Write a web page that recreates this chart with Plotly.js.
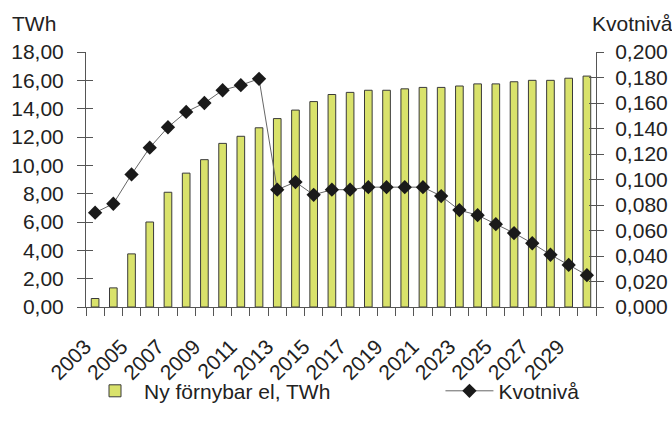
<!DOCTYPE html>
<html>
<head>
<meta charset="utf-8">
<script src="https://cdn.plot.ly/plotly-3.0.1.min.js"></script>
<style>html,body{margin:0;padding:0;background:#fff;}#chart{width:672px;height:423px;}</style>
</head>
<body>
<div id="chart"></div>
<script>
const years = [2003,2004,2005,2006,2007,2008,2009,2010,2011,2012,2013,2014,2015,2016,2017,2018,2019,2020,2021,2022,2023,2024,2025,2026,2027,2028,2029,2030];
const nyFornybarTWh = [0.6,1.35,3.75,6.0,8.1,9.45,10.4,11.55,12.05,12.65,13.3,13.9,14.5,15.0,15.15,15.3,15.3,15.4,15.5,15.5,15.6,15.75,15.75,15.9,16.0,16.0,16.15,16.3];
const kvotniva = [0.074,0.081,0.104,0.125,0.141,0.153,0.160,0.170,0.174,0.179,0.092,0.098,0.088,0.092,0.092,0.094,0.094,0.094,0.094,0.087,0.076,0.072,0.065,0.058,0.050,0.041,0.033,0.025];
const xTickVals = [2003,2005,2007,2009,2011,2013,2015,2017,2019,2021,2023,2025,2027,2029];
const xTickText = ["2003","2005","2007","2009","2011","2013","2015","2017","2019","2021","2023","2025","2027","2029"];
const seriesNames = ["Ny förnybar el, TWh", "Kvotnivå"];
const leftTitle = "TWh";
const rightTitle = "Kvotnivå";
</script>
<script>
const font = {family: "Liberation Sans, Arial, sans-serif", size: 21, color: "#222"};
const traces = [
  {type: "bar", x: years, y: nyFornybarTWh, name: seriesNames[0], yaxis: "y", legend: "legend",
   marker: {color: "#d9e26b", line: {color: "#3a3a3a", width: 1}}},
  {type: "scatter", mode: "lines+markers", x: years, y: kvotniva, name: seriesNames[1], yaxis: "y2", legend: "legend2",
   line: {color: "#666", width: 1}, marker: {symbol: "diamond", size: 11, color: "#1a1a1a"}}
];
const legendBase = {orientation: "h", xanchor: "left", y: -0.33, yanchor: "middle",
                    font: font, itemwidth: 48, bgcolor: "rgba(0,0,0,0)"};
const layout = {
  width: 672, height: 423,
  margin: {l: 86, r: 76, t: 52, b: 103},
  paper_bgcolor: "#fff", plot_bgcolor: "#fff",
  font: font,
  separators: ", ",
  bargap: 0.58,
  showlegend: true,
  legend: Object.assign({}, legendBase, {x: 0.0}),
  legend2: Object.assign({}, legendBase, {x: 0.695}),
  xaxis: {range: [2002.5, 2030.5], tickvals: xTickVals, ticktext: xTickText, tickangle: -45,
          ticks: "", showline: true, linecolor: "#555", linewidth: 1, showgrid: false, zeroline: false,
          ticklabelshift: -10, ticklabelstandoff: 18,
          minor: {tick0: 2002.5, dtick: 1, ticks: "outside", ticklen: 8, tickcolor: "#555", showgrid: false},
          tickfont: font},
  yaxis: {range: [0, 18], dtick: 2, tickformat: ".2f", ticks: "outside", ticklen: 8, tickcolor: "#555",
          showline: true, linecolor: "#555", showgrid: false, zeroline: false, ticklabelstandoff: 9, tickfont: font},
  yaxis2: {range: [0, 0.2], dtick: 0.02, tickformat: ".3f", overlaying: "y", side: "right", ticks: "outside",
           ticklen: 7, tickcolor: "#555", showline: true, linecolor: "#555", showgrid: false, zeroline: false,
           ticklabelstandoff: 7, tickfont: font},
  yaxis3: {range: [0, 18], dtick: 2, overlaying: "y", side: "left", ticks: "inside", ticklen: 7, tickcolor: "#555",
           showticklabels: false, showline: false, showgrid: false, zeroline: false},
  yaxis4: {range: [0, 0.2], dtick: 0.02, overlaying: "y", side: "right", ticks: "inside", ticklen: 7, tickcolor: "#555",
           showticklabels: false, showline: false, showgrid: false, zeroline: false},
  annotations: [
    {text: leftTitle, xref: "paper", yref: "paper", x: -0.15, y: 1.11, xanchor: "left", yanchor: "middle", showarrow: false, font: font},
    {text: rightTitle, xref: "paper", yref: "paper", x: 1.155, y: 1.11, xanchor: "right", yanchor: "middle", showarrow: false, font: font}
  ]
};
traces.push({type: "scatter", x: [years[0]], y: [0], yaxis: "y3", mode: "markers", marker: {opacity: 0}, showlegend: false, hoverinfo: "skip"});
traces.push({type: "scatter", x: [years[0]], y: [0], yaxis: "y4", mode: "markers", marker: {opacity: 0}, showlegend: false, hoverinfo: "skip"});
Plotly.newPlot("chart", traces, layout, {displayModeBar: false, staticPlot: true});
</script>
</body>
</html>
